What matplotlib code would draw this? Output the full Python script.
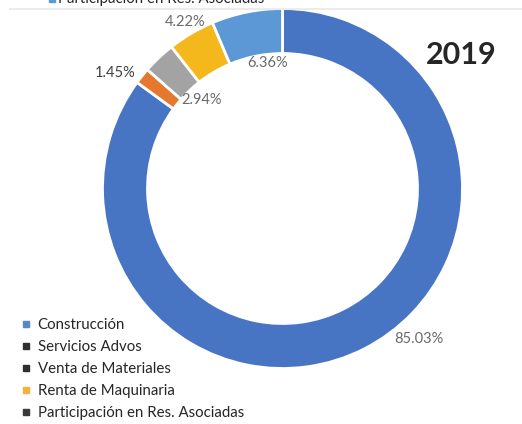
import matplotlib.pyplot as plt
from matplotlib.lines import Line2D

plt.rcParams['font.family'] = ['Lato', 'DejaVu Sans']

# Ingresos 2019 por segmento (%)
categorias = ['Construcción', 'Servicios Advos', 'Venta de Materiales',
              'Renta de Maquinaria', 'Participación en Res. Asociadas']
porcentajes = [85.03, 1.45, 2.94, 4.22, 6.36]
colores = ['#4775c4', '#e5782f', '#a3a3a3', '#f5b81c', '#5c98d6']
colores_leyenda = ['#5a86cc', '#2f2f2f', '#2f2f2f', '#f3b33a', '#3a3a3a']
etiquetas = [f'{p:.2f}%' for p in porcentajes]

# posiciones de las etiquetas (px, desde arriba) y color del texto
pos_etiquetas = [(419, 339), (115, 73), (202, 100), (185, 22), (268, 63)]
color_etiquetas = ['#6a6a6a', '#404040', '#6a6a6a', '#6a6a6a', '#6a6a6a']

W, H = 522, 424
fig = plt.figure(figsize=(W / 100, H / 100), dpi=100)
ax = fig.add_axes([0, 0, 1, 1])

centro = (282.5, H - 188.5)
radio = 180
ax.pie(porcentajes, colors=colores, startangle=90, counterclock=False,
       center=centro, radius=radio,
       wedgeprops=dict(width=45, edgecolor='white', linewidth=2))

for txt, (x, y), c in zip(etiquetas, pos_etiquetas, color_etiquetas):
    ax.text(x, H - y, txt, ha='center', va='center', fontsize=10.5, color=c)

ax.text(461, H - 55, '2019', ha='center', va='center', fontsize=22,
        fontweight='bold', color='#262626')

# leyenda
handles = [Line2D([], [], marker='s', linestyle='', markersize=4.8, color=c)
           for c in colores_leyenda]
leg = ax.legend(handles, categorias, loc='upper left',
                bbox_to_anchor=(22 / W, 1 - 318 / H), frameon=False,
                fontsize=10.8, handlelength=0.55, handletextpad=0.5,
                labelspacing=0.53, borderpad=0, borderaxespad=0)
for t in leg.get_texts():
    t.set_color('#262626')

# resto de la leyenda del gráfico anterior, cortada arriba
ax.plot([52], [H + 1], marker='s', markersize=4.8, color='#5c98d6', clip_on=False)
ax.text(58, H - 3.5, 'Participación en Res. Asociadas', fontsize=10.8,
        va='baseline', color='#262626')
ax.plot([10, W], [H - 9, H - 9], color='#ececec', linewidth=1.5)

ax.set_xlim(0, W)
ax.set_ylim(0, H)
ax.set_aspect('equal')
ax.axis('off')

fig.savefig('out.png', dpi=100, facecolor='white')
